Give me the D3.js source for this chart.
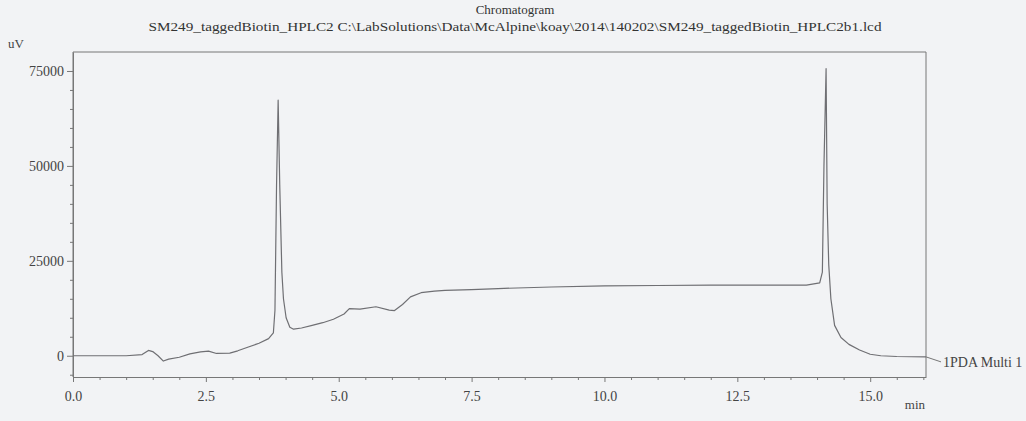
<!DOCTYPE html>
<html>
<head>
<meta charset="utf-8">
<script src="https://cdn.jsdelivr.net/npm/d3@7"></script>
<style>
  body { margin: 0; background: #f2f3f5; }
  svg { display: block; font-family: "Liberation Serif", "DejaVu Serif", serif; }
  .axis path, .axis line { stroke: #777; }
  .axis text { fill: #444; font-size: 14px; font-family: "Liberation Serif", serif; }
</style>
</head>
<body>
<div id="chart"></div>
<script>
// retention time (min) and detector signal (uV)
const times = [0, 0.5, 1.0, 1.3, 1.42, 1.5, 1.6, 1.7, 1.8, 2.0, 2.2, 2.4, 2.55, 2.7, 2.95, 3.1, 3.3, 3.5, 3.68, 3.77,
  3.8, 3.83, 3.86, 3.89, 3.93, 3.96, 4.01, 4.08, 4.15, 4.3, 4.5, 4.7, 4.9, 5.1, 5.2, 5.4, 5.7, 5.95, 6.05,
  6.2, 6.35, 6.55, 6.8, 7.0, 7.5, 8.0, 9.0, 10.0, 11.0, 12.0, 13.0, 13.8, 14.05, 14.1, 14.13, 14.17, 14.19,
  14.22, 14.26, 14.33, 14.45, 14.6, 14.8, 15.0, 15.2, 15.5, 16.05];
const signal = [0, 0, 0, 300, 1400, 1100, 0, -1400, -900, -400, 500, 1000, 1200, 600, 700, 1300, 2300, 3300, 4500, 6000,
  12000, 45000, 67300, 45000, 22000, 15000, 10000, 7500, 7000, 7300, 8000, 8700, 9600, 11000, 12400, 12300, 12900, 12000, 11900,
  13500, 15500, 16600, 17000, 17200, 17400, 17700, 18100, 18400, 18500, 18600, 18600, 18600, 19200, 22000, 50000, 75600, 40000,
  24000, 15000, 8000, 4800, 3000, 1500, 400, 0, -200, -300];

const xMajor = [0, 2.5, 5, 7.5, 10, 12.5, 15];
const yMajor = [0, 25000, 50000, 75000];
const title = "Chromatogram";
const subtitle = "SM249_taggedBiotin_HPLC2 C:\\LabSolutions\\Data\\McAlpine\\koay\\2014\\140202\\SM249_taggedBiotin_HPLC2b1.lcd";
const traceName = "1PDA Multi 1";

const W = 1026, H = 421;
const m = { left: 73, right: 926, top: 52, bottom: 377 };

const svg = d3.select("#chart").append("svg")
  .attr("width", W).attr("height", H);

const x = d3.scaleLinear().domain([0, 16.05]).range([m.left, m.right]);
const y = d3.scaleLinear().domain([-5600, 80000]).range([m.bottom, m.top]);

// titles
svg.append("text").attr("x", 515).attr("y", 14).attr("text-anchor", "middle")
  .attr("font-size", 13).attr("fill", "#333").text(title);
svg.append("text").attr("x", 515).attr("y", 31).attr("text-anchor", "middle")
  .attr("font-size", 13).attr("fill", "#333")
  .attr("textLength", 733).attr("lengthAdjust", "spacingAndGlyphs")
  .text(subtitle);
svg.append("text").attr("x", 8).attr("y", 48).attr("font-size", 13).attr("fill", "#444").text("uV");

// frame
svg.append("path")
  .attr("d", `M${m.left},${m.bottom}V${m.top}H${m.right}V${m.bottom}`)
  .attr("fill", "none").attr("stroke", "#777");

// minor ticks
const xMinor = d3.range(0, 16.01, 0.5).filter(v => !xMajor.includes(v));
const yMinor = d3.range(-5000, 80000, 5000).filter(v => !yMajor.includes(v));

svg.append("g").attr("class", "axis")
  .attr("transform", `translate(0,${m.bottom})`)
  .call(d3.axisBottom(x).tickValues(xMinor).tickSize(3).tickFormat(""))
  .call(g => g.select(".domain").remove());
svg.append("g").attr("class", "axis")
  .attr("transform", `translate(0,${m.bottom})`)
  .call(d3.axisBottom(x).tickValues(xMajor).tickSize(5).tickPadding(9).tickSizeOuter(0).tickFormat(d3.format(".1f")));

svg.append("g").attr("class", "axis")
  .attr("transform", `translate(${m.left},0)`)
  .call(d3.axisLeft(y).tickValues(yMinor).tickSize(3).tickFormat(""))
  .call(g => g.select(".domain").remove());
svg.append("g").attr("class", "axis")
  .attr("transform", `translate(${m.left},0)`)
  .call(d3.axisLeft(y).tickValues(yMajor).tickSize(6).tickPadding(3).tickSizeOuter(0).tickFormat(d3.format("d")));

svg.append("text").attr("x", 925).attr("y", 409).attr("text-anchor", "end")
  .attr("font-size", 13).attr("fill", "#444").text("min");

// trace
const line = d3.line()
  .x((d, i) => x(times[i]))
  .y(d => y(d));

svg.append("path")
  .datum(signal)
  .attr("d", line)
  .attr("fill", "none")
  .attr("stroke", "#6f6f73")
  .attr("stroke-width", 1.2)
  .attr("stroke-linejoin", "round");

// trace label with leader
const endX = x(times[times.length - 1]), endY = y(signal[signal.length - 1]);
svg.append("line")
  .attr("x1", endX).attr("y1", endY).attr("x2", endX + 15).attr("y2", endY + 5)
  .attr("stroke", "#777");
svg.append("text").attr("x", endX + 17).attr("y", endY + 10)
  .attr("font-size", 14).attr("fill", "#444").text(traceName);
</script>
</body>
</html>
